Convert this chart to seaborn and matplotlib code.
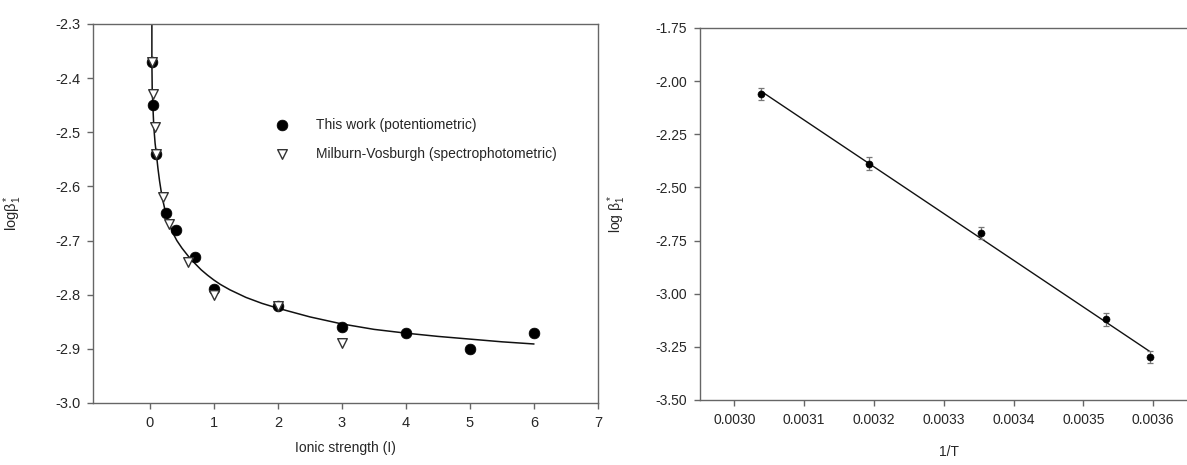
import numpy as np
import pandas as pd
import matplotlib
matplotlib.use("Agg")
import matplotlib.pyplot as plt
import seaborn as sns
from matplotlib.ticker import FormatStrFormatter

# ---- Left panel: log beta1* versus ionic strength ----
ionic_this_work = [0.025, 0.05, 0.1, 0.25, 0.4, 0.7, 1.0, 2.0, 3.0, 4.0, 5.0, 6.0]
logb_this_work = [-2.37, -2.45, -2.54, -2.65, -2.68, -2.73, -2.79, -2.82, -2.86, -2.87, -2.90, -2.87]

ionic_milburn = [0.025, 0.04, 0.08, 0.1, 0.2, 0.3, 0.6, 1.0, 2.0, 3.0]
logb_milburn = [-2.37, -2.43, -2.49, -2.54, -2.62, -2.67, -2.74, -2.80, -2.82, -2.89]

# fitted curve through the data
ionic_fit = [0.03, 0.03, 0.035, 0.045, 0.06, 0.08, 0.10, 0.125, 0.15, 0.175, 0.20, 0.23,
             0.26, 0.30, 0.34, 0.38, 0.42, 0.50, 0.60, 0.70, 0.80, 0.90, 1.0, 1.1, 1.25,
             1.5, 1.75, 2.0, 2.5, 3.0, 3.5, 4.0, 4.5, 5.0, 5.5, 6.0]
logb_fit = [-2.30, -2.37, -2.42, -2.45, -2.49, -2.52, -2.54, -2.567, -2.59, -2.609, -2.625,
            -2.641, -2.655, -2.669, -2.681, -2.691, -2.700, -2.714, -2.729, -2.742, -2.754,
            -2.764, -2.773, -2.781, -2.791, -2.805, -2.816, -2.825, -2.841, -2.854, -2.864,
            -2.871, -2.877, -2.882, -2.887, -2.891]

left_xticks = [0, 1, 2, 3, 4, 5, 6, 7]
left_yticks = [-3.0, -2.9, -2.8, -2.7, -2.6, -2.5, -2.4, -2.3]

# ---- Right panel: van 't Hoff plot ----
inv_T = [0.003038, 0.003193, 0.003354, 0.003532, 0.003595]
logb_T = [-2.06, -2.388, -2.714, -3.12, -3.298]
logb_T_err = [0.03, 0.03, 0.03, 0.03, 0.03]

right_xticks = [0.0030, 0.0031, 0.0032, 0.0033, 0.0034, 0.0035, 0.0036]
right_yticks = [-3.50, -3.25, -3.00, -2.75, -2.50, -2.25, -2.00, -1.75]

sns.set_theme(style="ticks")
plt.rcParams["font.family"] = ["Liberation Sans", "DejaVu Sans"]
plt.rcParams["mathtext.fontset"] = "custom"
plt.rcParams["mathtext.rm"] = "Liberation Sans"
plt.rcParams["mathtext.it"] = "Liberation Sans"
plt.rcParams["mathtext.default"] = "regular"

spine_color = "#666666"
ink = "#111111"

fig = plt.figure(figsize=(11.87, 4.65), dpi=100)
W, H = 1187, 465
ax1 = fig.add_axes([93 / W, 1 - 403 / H, (598 - 93) / W, (403 - 24) / H])
ax2 = fig.add_axes([699.5 / W, 1 - 400 / H, (1188 - 699.5) / W, (400 - 28) / H])

# left panel
df_fit = pd.DataFrame({"I": ionic_fit, "logb": logb_fit})
sns.lineplot(data=df_fit, x="I", y="logb", sort=False, estimator=None,
             color=ink, linewidth=1.1, ax=ax1)
df_tw = pd.DataFrame({"I": ionic_this_work, "logb": logb_this_work})
sns.scatterplot(data=df_tw, x="I", y="logb", marker="o", s=60, color="black",
                edgecolor="black", linewidth=0.5, ax=ax1, zorder=3,
                label="This work (potentiometric)")
df_mv = pd.DataFrame({"I": ionic_milburn, "logb": logb_milburn})
sns.scatterplot(data=df_mv, x="I", y="logb", marker="v", s=48, color="white",
                edgecolor="#333333", linewidth=1.0, ax=ax1, zorder=4,
                label="Milburn-Vosburgh (spectrophotometric)")

ax1.set_xlim(-0.89, 7.0)
ax1.set_ylim(-3.0, -2.3)
ax1.set_xticks(left_xticks)
ax1.set_yticks(left_yticks)
ax1.yaxis.set_major_formatter(FormatStrFormatter("%.1f"))
ax1.tick_params(labelsize=10.5, length=4, width=1, color=spine_color, pad=5)
for sp in ax1.spines.values():
    sp.set_visible(True)
    sp.set_color(spine_color)
    sp.set_linewidth(1.0)
ax1.set_xlabel("Ionic strength (I)", fontsize=10)
ax1.set_ylabel(r"logβ$_1^*$", fontsize=10.5)
ax1.xaxis.set_label_coords(0.5, -0.100)
ax1.xaxis.label.set_va("top")
ax1.yaxis.set_label_coords(-0.137, 0.5)

leg = ax1.legend(loc="upper left", bbox_to_anchor=(0.360, 0.752), frameon=False,
                 fontsize=10, borderpad=0, handlelength=1.0, handletextpad=1.95,
                 labelspacing=1.05, borderaxespad=0)

# right panel
df_T = pd.DataFrame({"invT": inv_T, "logb": logb_T})
sns.regplot(data=df_T, x="invT", y="logb", ci=None, scatter=False, truncate=True,
            line_kws={"color": ink, "linewidth": 1.0}, ax=ax2)
ax2.errorbar(inv_T, logb_T, yerr=logb_T_err, fmt="none", ecolor="#777777",
             elinewidth=0.9, capsize=2.5, capthick=0.9, zorder=3)
sns.scatterplot(data=df_T, x="invT", y="logb", marker="o", s=26, color="black",
                edgecolor="black", linewidth=0.4, ax=ax2, zorder=4)

ax2.set_xlim(0.00295, 0.00365)
ax2.set_ylim(-3.5, -1.75)
ax2.set_xticks(right_xticks)
ax2.set_yticks(right_yticks)
ax2.xaxis.set_major_formatter(FormatStrFormatter("%.4f"))
ax2.yaxis.set_major_formatter(FormatStrFormatter("%.2f"))
ax2.tick_params(labelsize=10, length=4, width=1, color=spine_color, pad=5)
for name, sp in ax2.spines.items():
    sp.set_color(spine_color)
    sp.set_linewidth(1.0)
    sp.set_visible(name != "right")
ax2.set_xlabel("1/T", fontsize=10)
ax2.set_ylabel(r"log β$_1^*$", fontsize=10)
ax2.xaxis.set_label_coords(0.511, -0.121)
ax2.xaxis.label.set_va("top")
ax2.yaxis.set_label_coords(-0.147, 0.5)

fig.savefig("out.png", dpi=100)
